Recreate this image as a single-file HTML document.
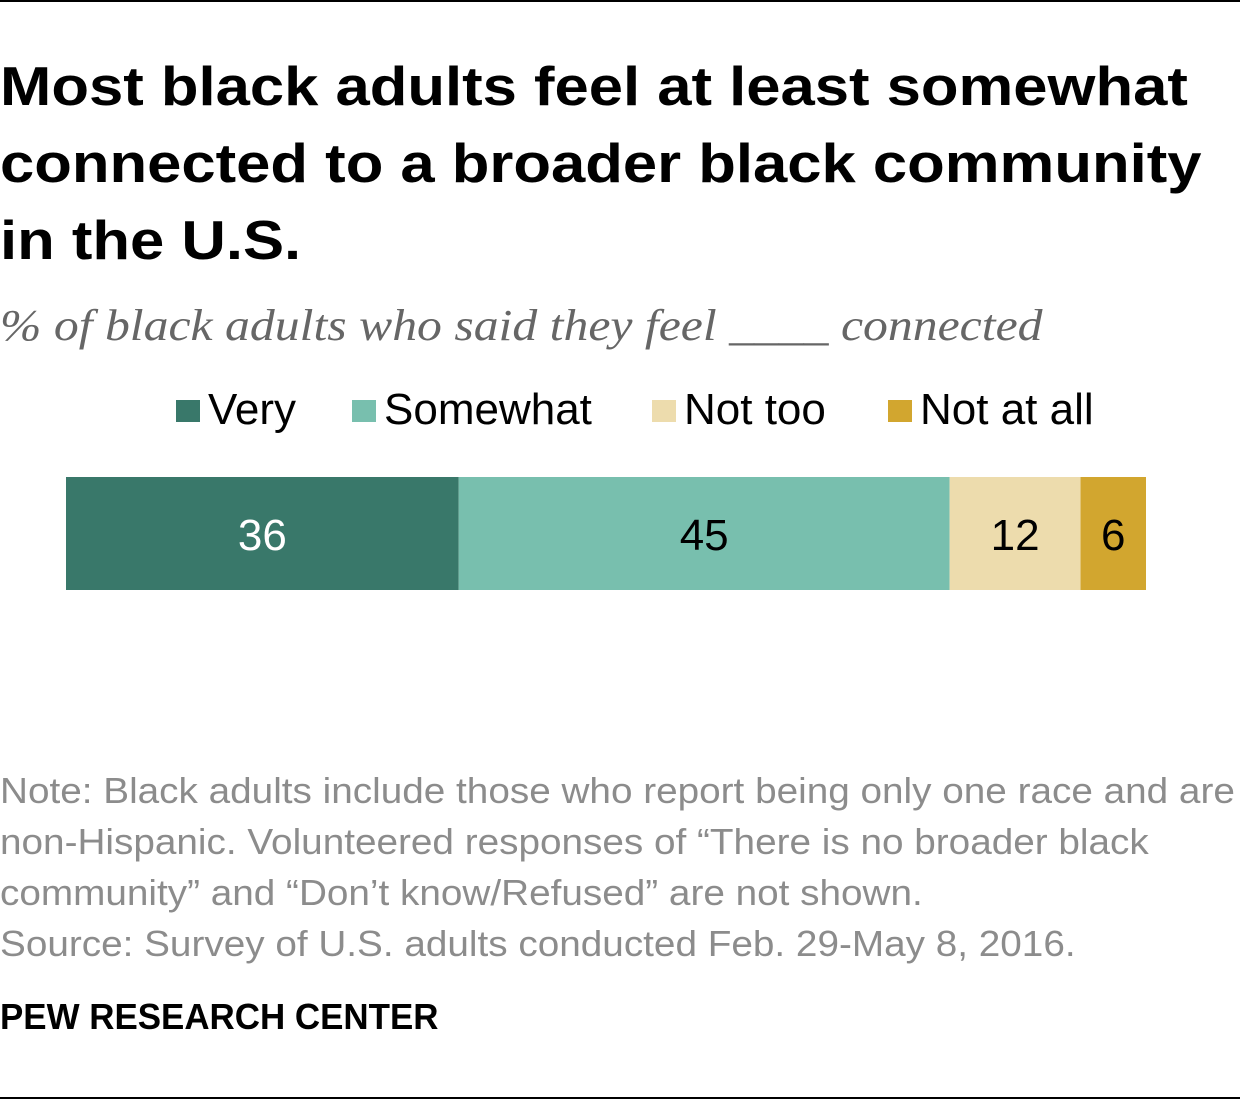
<!DOCTYPE html>
<html><head><meta charset="utf-8"><style>
body{margin:0;width:1240px;height:1100px;background:#fff;position:relative;overflow:hidden;font-family:"Liberation Sans",sans-serif}
.t{position:absolute;left:0;white-space:nowrap;transform-origin:0 0}
#title{top:48px;font-weight:bold;font-size:55px;line-height:77px;color:#000;transform:scaleX(1.12)}
#sub{top:300px;font-family:"Liberation Serif",serif;font-style:italic;font-size:44px;color:#666;transform:scaleX(1.13)}
.note{font-size:36px;color:#8c8c8c;line-height:51px;transform:scaleX(1.075)}
</style></head><body>
<div style="position:absolute;left:0;top:0;width:1240px;height:2px;background:#000"></div>
<div style="position:absolute;left:0;top:1097px;width:1240px;height:2px;background:#000"></div>
<div id="title" class="t">Most black adults feel at least somewhat<br>connected to a broader black community<br>in the U.S.</div>
<div id="sub" class="t">% of black adults who said they feel ____ connected</div>
<svg id="chart" width="1240" height="620" style="position:absolute;left:0;top:0"></svg>
<div class="t note" style="top:765px">Note: Black adults include those who report being only one race and are<br>non-Hispanic. Volunteered responses of “There is no broader black<br>community” and “Don’t know/Refused” are not shown.<br>Source: Survey of U.S. adults conducted Feb. 29-May 8, 2016.</div>
<div class="t" style="top:996px;font-weight:bold;font-size:36px;color:#000;transform:scaleX(0.97)">PEW RESEARCH CENTER</div>
<script>
const categories=["Very","Somewhat","Not too","Not at all"];
const values=[36,45,12,6];
const colors=["#39786a","#78bfae","#eddcad","#d2a62f"];
const textColors=["#fff","#000","#000","#000"];
const legendX=[176,352,652,888];
const svg=document.getElementById('chart');
const NS="http://www.w3.org/2000/svg";
const x0=66,total=99,w=1080,y0=477,h=113;
const xs=v=>v/total*w;
let acc=0;
values.forEach((v,i)=>{
 const r=document.createElementNS(NS,'rect');
 
 
 r.setAttribute('x',x0+xs(acc));r.setAttribute('y',y0);r.setAttribute('width',xs(v));r.setAttribute('height',h);r.setAttribute('fill',colors[i]);
 svg.appendChild(r);
 const t=document.createElementNS(NS,'text');
 
 
 t.setAttribute('x',x0+xs(acc+v/2));t.setAttribute('y',y0+73);t.setAttribute('text-anchor','middle');
 t.setAttribute('font-family','Liberation Sans, sans-serif');t.setAttribute('font-size','44');t.setAttribute('fill',textColors[i]);
 t.textContent=v;svg.appendChild(t);
 acc+=v;
 const s=document.createElementNS(NS,'rect');
 
 
 s.setAttribute('x',legendX[i]);s.setAttribute('y',400);s.setAttribute('width',24);s.setAttribute('height',22);s.setAttribute('fill',colors[i]);
 svg.appendChild(s);
 const l=document.createElementNS(NS,'text');
 
 
 l.setAttribute('x',legendX[i]+32);l.setAttribute('y',424);
 l.setAttribute('font-family','Liberation Sans, sans-serif');l.setAttribute('font-size','44');l.setAttribute('fill','#000');
 l.textContent=categories[i];svg.appendChild(l);
});
</script>
</body></html>
